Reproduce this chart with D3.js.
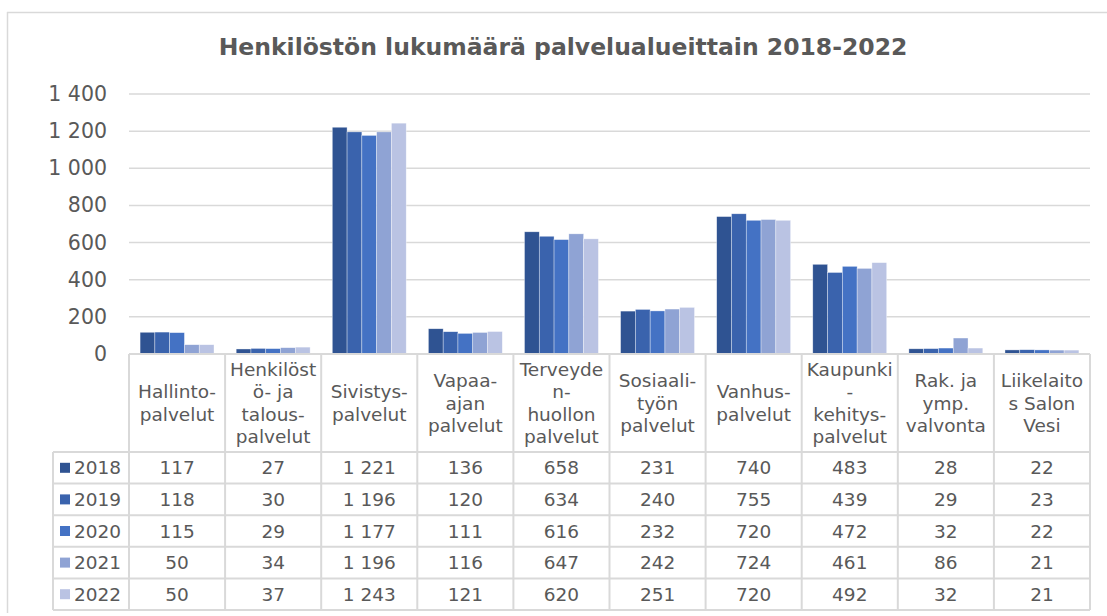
<!DOCTYPE html>
<html>
<head>
<meta charset="utf-8">
<script src="https://cdn.jsdelivr.net/npm/d3@7"></script>
<style>
  body { margin: 0; background: #fff; }
  svg text { font-family: "DejaVu Sans", Verdana, sans-serif; fill: #595959; }
</style>
</head>
<body>
<svg id="chart" width="1107" height="616"></svg>
<script>
// categories (with the line breaks used in the table header)
var categories = ["Hallinto", "Henkilosto", "Sivistys", "Vapaa-aika", "Terveys", "Sosiaali", "Vanhus", "Kaupunki", "Rakvalvonta", "Liikelaitos"]
var categoryLines = [
  ["Hallinto-", "palvelut"],
  ["Henkilöst", "ö- ja", "talous-", "palvelut"],
  ["Sivistys-", "palvelut"],
  ["Vapaa-", "ajan", "palvelut"],
  ["Terveyde", "n-", "huollon", "palvelut"],
  ["Sosiaali-", "työn", "palvelut"],
  ["Vanhus-", "palvelut"],
  ["Kaupunki", "-", "kehitys-", "palvelut"],
  ["Rak. ja", "ymp.", "valvonta"],
  ["Liikelaito", "s Salon", "Vesi"]
]
var years = ["2018", "2019", "2020", "2021", "2022"]
var colors = ["#2f5392", "#3a63ad", "#4472c4", "#8fa3d4", "#bac3e3"]

var v2018 = [117, 27, 1221, 136, 658, 231, 740, 483, 28, 22]
var v2019 = [118, 30, 1196, 120, 634, 240, 755, 439, 29, 23]
var v2020 = [115, 29, 1177, 111, 616, 232, 720, 472, 32, 22]
var v2021 = [50, 34, 1196, 116, 647, 242, 724, 461, 86, 21]
var v2022 = [50, 37, 1243, 121, 620, 251, 720, 492, 32, 21]
var series = [v2018, v2019, v2020, v2021, v2022]

var yTicks = [0, 200, 400, 600, 800, 1000, 1200, 1400]

var title = "Henkilöstön lukumäärä palvelualueittain 2018-2022"

;(function() {
// number format with space as thousands separator
var fi = d3.formatLocale({decimal: ",", thousands: " ", grouping: [3], currency: ["", " €"]})
var fmt = fi.format(",d")

var svg = d3.select("#chart")
var grey = "#d9d9d9"

// outer frame (only top and left edges are inside the picture)
svg.append("line").attr("x1", 7).attr("x2", 1107).attr("y1", 12.5).attr("y2", 12.5)
  .style("stroke", grey).style("stroke-width", 1.5)
svg.append("line").attr("x1", 7.5).attr("x2", 7.5).attr("y1", 12).attr("y2", 613)
  .style("stroke", grey).style("stroke-width", 1.5)

// title
svg.append("text")
  .attr("x", 563).attr("y", 47)
  .attr("text-anchor", "middle")
  .attr("dominant-baseline", "central")
  .style("font-size", "23.5px").style("font-weight", "bold")
  .text(title)

var plotLeft = 129, plotRight = 1090, plotTop = 94, zero = 354

var y = d3.scaleLinear().domain([0, 1400]).range([zero, plotTop])
var x = d3.scaleBand().domain(categories).range([plotLeft, plotRight]).paddingInner(0).paddingOuter(0)
var xs = d3.scaleBand().domain(years).range([0, x.bandwidth()]).paddingInner(0).paddingOuter(0.75)

// gridlines
svg.selectAll("line.grid")
  .data(yTicks.filter(function(d){ return d > 0 }))
  .enter()
  .append("line")
    .attr("class", "grid")
    .attr("x1", plotLeft).attr("x2", plotRight)
    .attr("y1", function(d){ return y(d) }).attr("y2", function(d){ return y(d) })
    .style("stroke", grey).style("stroke-width", 1.5)

// y labels
svg.selectAll("text.ylab")
  .data(yTicks)
  .enter()
  .append("text")
    .attr("class", "ylab")
    .attr("x", 107)
    .attr("y", function(d){ return y(d) })
    .attr("text-anchor", "end")
    .attr("dominant-baseline", "central")
    .style("font-size", "20.5px")
    .text(function(d){ return fmt(d) })

// bars
series.forEach(function(vals, si) {
  svg.selectAll("rect.bar" + si)
    .data(vals)
    .enter()
    .append("rect")
      .attr("class", "bar" + si)
      .attr("x", function(d, i){ return x(categories[i]) + xs(years[si]) })
      .attr("y", function(d){ return y(d) })
      .attr("width", xs.bandwidth())
      .attr("height", function(d){ return zero - y(d) })
      .style("fill", colors[si])
      .style("stroke", "#fff").style("stroke-width", 0.6).style("stroke-opacity", 0.6)
})

// data table
var headerBottom = 452, rowH = 31.6, legLeft = 53
var tableBottom = headerBottom + rowH * years.length

var tl = svg.append("g").style("stroke", grey).style("stroke-width", 2)
// horizontal lines
tl.append("line").attr("x1", plotLeft).attr("x2", plotRight).attr("y1", zero).attr("y2", zero)
d3.range(years.length + 1).forEach(function(r) {
  tl.append("line").attr("x1", legLeft).attr("x2", plotRight)
    .attr("y1", headerBottom + r * rowH).attr("y2", headerBottom + r * rowH)
})
// vertical lines
tl.append("line").attr("x1", legLeft).attr("x2", legLeft).attr("y1", headerBottom).attr("y2", tableBottom)
categories.concat(["end"]).forEach(function(c, i) {
  var xx = plotLeft + i * x.step()
  tl.append("line").attr("x1", xx).attr("x2", xx).attr("y1", zero).attr("y2", tableBottom)
})

// header labels
var lineH = 22.5
categoryLines.forEach(function(lines, i) {
  var cx = x(categories[i]) + x.bandwidth() / 2
  var cy = (zero + headerBottom) / 2
  var t = svg.append("text")
    .attr("text-anchor", "middle")
    .style("font-size", "18.5px")
  lines.forEach(function(s, k) {
    t.append("tspan")
      .attr("x", cx)
      .attr("y", cy + (k - (lines.length - 1) / 2) * lineH)
      .attr("dominant-baseline", "central")
      .text(s)
  })
})

// rows
years.forEach(function(yr, si) {
  var cy = headerBottom + si * rowH + rowH / 2
  svg.append("rect")
    .attr("x", 60).attr("y", cy - 5).attr("width", 10).attr("height", 10)
    .style("fill", colors[si])
  svg.append("text")
    .attr("x", 74).attr("y", cy)
    .attr("dominant-baseline", "central")
    .style("font-size", "18.5px")
    .text(yr)
  svg.selectAll("text.val" + si)
    .data(series[si])
    .enter()
    .append("text")
      .attr("class", "val" + si)
      .attr("x", function(d, i){ return x(categories[i]) + x.bandwidth() / 2 })
      .attr("y", cy)
      .attr("text-anchor", "middle")
      .attr("dominant-baseline", "central")
      .style("font-size", "18.5px")
      .text(function(d){ return fmt(d) })
})
})()
</script>
</body>
</html>
